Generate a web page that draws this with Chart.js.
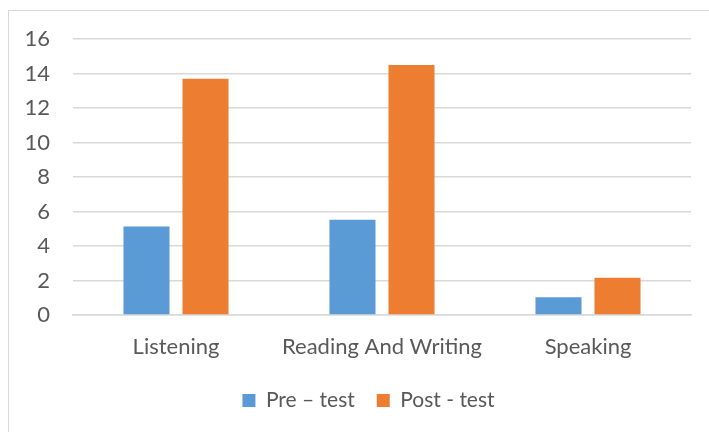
<!DOCTYPE html>
<html>
<head>
<meta charset="utf-8">
<script src="https://cdn.jsdelivr.net/npm/chart.js@4/dist/chart.umd.min.js"></script>
<style>
  html, body { margin: 0; padding: 0; background: #fff; }
  #wrap { position: relative; width: 709px; height: 432px; }
  #frame { position: absolute; left: 8px; top: 10px; width: 720px; height: 440px;
           border-left: 1.5px solid #d9d9d9; border-top: 1.5px solid #d9d9d9; }
  canvas { position: absolute; left: 0; top: 0; }
</style>
</head>
<body>
<div id="wrap">
  <div id="frame"></div>
  <canvas id="barChart" width="709" height="432"></canvas>
</div>
<script>
const categories = ['Listening', 'Reading And Writing', 'Speaking'];
const preTest = [5.13, 5.52, 1.03];
const postTest = [13.69, 14.5, 2.16];
const yTicks = [0, 2, 4, 6, 8, 10, 12, 14, 16];

const textColor = '#595959';
const fontFamily = 'Lato, "Open Sans", sans-serif';

// nudge the legend a bit to the right, like the Excel original
const legendShift = {
    id: 'legendShift',
    afterLayout(chart) {
        chart.legend.left += 19;
        chart.legend.right += 19;
    }
};

document.addEventListener('DOMContentLoaded', function() {
    const ctx = document.getElementById('barChart').getContext('2d');
    new Chart(ctx, {
        type: 'bar',
        data: {
            labels: categories,
            datasets: [{
                label: 'Pre \u2013 test',
                data: preTest,
                backgroundColor: '#5b9bd5',
                categoryPercentage: 0.573,
                barPercentage: 0.78
            }, {
                label: 'Post - test',
                data: postTest,
                backgroundColor: '#ed7d31',
                categoryPercentage: 0.573,
                barPercentage: 0.78
            }]
        },
        plugins: [legendShift],
        options: {
            responsive: false,
            animation: false,
            layout: {
                padding: { top: 39, right: 18, left: 8, bottom: 11 }
            },
            plugins: {
                tooltip: { enabled: false },
                legend: {
                    position: 'bottom',
                    labels: {
                        boxWidth: 13,
                        boxHeight: 13,
                        padding: 22,
                        color: textColor,
                        font: { family: fontFamily, size: 21 }
                    }
                }
            },
            scales: {
                x: {
                    grid: { display: false, drawTicks: false },
                    border: { color: '#d9d9d9', width: 1.5 },
                    ticks: {
                        color: textColor,
                        padding: 19,
                        maxRotation: 0,
                        minRotation: 0,
                        autoSkip: false,
                        font: { family: fontFamily, size: 22 }
                    },
                    afterFit: function(scale) { scale.height = 53; }
                },
                y: {
                    min: 0,
                    max: 16,
                    afterBuildTicks: function(scale) {
                        scale.ticks = yTicks.map(v => ({ value: v }));
                    },
                    grid: { color: '#d9d9d9', lineWidth: 1.5, drawTicks: false },
                    border: { display: false },
                    ticks: {
                        color: textColor,
                        padding: 23,
                        font: { family: fontFamily, size: 22 }
                    },
                    afterFit: function(scale) { scale.width = 65; }
                }
            }
        }
    });
});
</script>
</body>
</html>
